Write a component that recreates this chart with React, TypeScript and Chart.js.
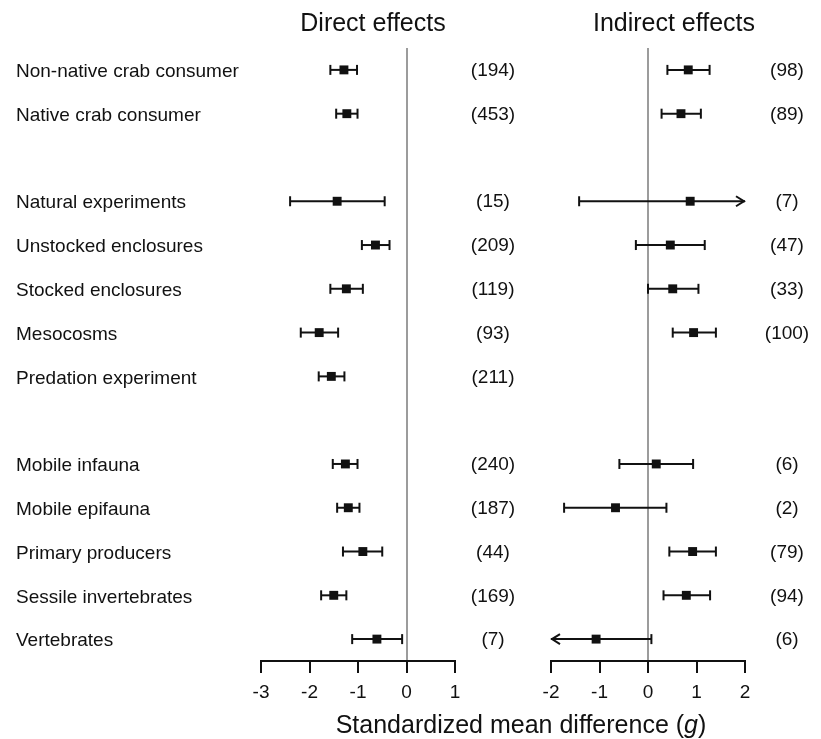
import React, { useEffect, useRef } from 'react';
import { Chart, registerables } from 'chart.js';

Chart.register(...registerables);

// ---------- data ----------
const categories = [
  'Non-native crab consumer',
  'Native crab consumer',
  '',
  'Natural experiments',
  'Unstocked enclosures',
  'Stocked enclosures',
  'Mesocosms',
  'Predation experiment',
  '',
  'Mobile infauna',
  'Mobile epifauna',
  'Primary producers',
  'Sessile invertebrates',
  'Vertebrates',
];

const directMean = [-1.29, -1.23, null, -1.43, -0.64, -1.24, -1.8, -1.55, null, -1.26, -1.2, -0.9, -1.5, -0.61];
const directLower = [-1.57, -1.45, null, -2.4, -0.92, -1.57, -2.18, -1.81, null, -1.52, -1.43, -1.31, -1.76, -1.12];
const directUpper = [-1.02, -1.01, null, -0.45, -0.35, -0.9, -1.41, -1.28, null, -1.01, -0.97, -0.5, -1.24, -0.09];
const directN = [194, 453, null, 15, 209, 119, 93, 211, null, 240, 187, 44, 169, 7];

const indirectMean = [0.83, 0.68, null, 0.87, 0.46, 0.51, 0.94, null, null, 0.17, -0.67, 0.92, 0.79, -1.07];
const indirectLower = [0.4, 0.28, null, -1.42, -0.25, 0.0, 0.51, null, null, -0.59, -1.73, 0.44, 0.32, -2.0];
const indirectUpper = [1.27, 1.09, null, 2.0, 1.17, 1.04, 1.4, null, null, 0.93, 0.38, 1.4, 1.28, 0.07];
const indirectN = [98, 89, null, 7, 47, 33, 100, null, null, 6, 2, 79, 94, 6];
// interval continues beyond the axis: drawn as an arrow
const indirectArrow = ['', '', '', 'right', '', '', '', '', '', '', '', '', '', 'left'];
const directArrow = categories.map(() => '');

const directTicks = [-3, -2, -1, 0, 1];
const indirectTicks = [-2, -1, 0, 1, 2];

const panelTitles = ['Direct effects', 'Indirect effects'];
const axisTitle = 'Standardized mean difference';
const axisSymbol = 'g';

// ---------- style ----------
const FONT = '"Liberation Sans", Arial, Helvetica, sans-serif';
const INK = '#111111';
const ZERO = '#9c9c9c';

function forestPlugin(lower, upper, arrows, counts, countOffset) {
  return {
    id: 'forest',
    beforeDatasetsDraw(chart) {
      const { ctx } = chart;
      const xs = chart.scales.x;
      const ys = chart.scales.y;
      ctx.save();
      ctx.strokeStyle = INK;
      ctx.lineWidth = 2;
      ctx.lineCap = 'butt';
      for (let i = 0; i < lower.length; i++) {
        if (lower[i] == null || upper[i] == null) continue;
        const py = ys.getPixelForValue(i);
        const x1 = xs.getPixelForValue(lower[i]);
        const x2 = xs.getPixelForValue(upper[i]);
        ctx.beginPath();
        ctx.moveTo(x1, py);
        ctx.lineTo(x2, py);
        ctx.stroke();
        const cap = 5;
        // left end
        ctx.beginPath();
        if (arrows[i] === 'left') {
          ctx.moveTo(x1 + 9, py - 5);
          ctx.lineTo(x1 + 1, py);
          ctx.lineTo(x1 + 9, py + 5);
        } else {
          ctx.moveTo(x1, py - cap);
          ctx.lineTo(x1, py + cap);
        }
        ctx.stroke();
        // right end
        ctx.beginPath();
        if (arrows[i] === 'right') {
          ctx.moveTo(x2 - 9, py - 5);
          ctx.lineTo(x2 - 1, py);
          ctx.lineTo(x2 - 9, py + 5);
        } else {
          ctx.moveTo(x2, py - cap);
          ctx.lineTo(x2, py + cap);
        }
        ctx.stroke();
      }
      ctx.restore();
    },
    afterDraw(chart) {
      const { ctx, chartArea } = chart;
      const ys = chart.scales.y;
      ctx.save();
      ctx.fillStyle = INK;
      ctx.font = `19px ${FONT}`;
      ctx.textAlign = 'center';
      ctx.textBaseline = 'middle';
      for (let i = 0; i < counts.length; i++) {
        if (counts[i] == null) continue;
        ctx.fillText(`(${counts[i]})`, chartArea.right + countOffset, ys.getPixelForValue(i) + 1);
      }
      ctx.restore();
    },
  };
}

function makeConfig(opts) {
  const { mean, lower, upper, arrows, counts, ticks, showLabels, padding, countOffset } = opts;
  const points = [];
  mean.forEach((m, i) => {
    if (m != null) points.push({ x: m, y: i });
  });
  return {
    type: 'scatter',
    data: {
      datasets: [
        {
          data: points,
          pointStyle: 'rect',
          pointRadius: 6.3,
          pointHoverRadius: 6.3,
          backgroundColor: INK,
          borderWidth: 0,
        },
      ],
    },
    options: {
      responsive: false,
      animation: false,
      events: [],
      layout: { padding },
      plugins: { legend: { display: false }, tooltip: { enabled: false }, title: { display: false } },
      scales: {
        x: {
          type: 'linear',
          min: ticks[0],
          max: ticks[ticks.length - 1],
          afterBuildTicks: (s) => {
            s.ticks = ticks.map((v) => ({ value: v }));
          },
          ticks: { font: { family: FONT, size: 19 }, color: INK, padding: 8 },
          grid: {
            display: true,
            drawOnChartArea: true,
            drawTicks: true,
            color: (c) => (c.tick && c.tick.value === 0 ? ZERO : 'rgba(0,0,0,0)'),
            lineWidth: 2,
            tickColor: INK,
            tickWidth: 2,
            tickLength: 12,
          },
          border: { display: true, color: INK, width: 2 },
          afterFit: (s) => {
            s.height = 78;
          },
        },
        y: {
          type: 'linear',
          display: showLabels,
          reverse: true,
          min: -0.5,
          max: categories.length - 0.5,
          afterBuildTicks: (s) => {
            s.ticks = categories.map((_, i) => ({ value: i }));
          },
          ticks: {
            autoSkip: false,
            crossAlign: 'far',
            padding: 0,
            labelOffset: 2,
            color: INK,
            font: { family: FONT, size: 19 },
            callback: (v) => categories[v] ?? '',
          },
          grid: { display: false },
          border: { display: false },
          afterFit: (s) => {
            s.width = showLabels ? 245 : 0;
          },
        },
      },
    },
    plugins: [forestPlugin(lower, upper, arrows, counts, countOffset)],
  };
}

export default function App() {
  const leftRef = useRef(null);
  const rightRef = useRef(null);

  useEffect(() => {
    const left = new Chart(
      leftRef.current,
      makeConfig({
        mean: directMean,
        lower: directLower,
        upper: directUpper,
        arrows: directArrow,
        counts: directN,
        ticks: directTicks,
        showLabels: true,
        padding: { left: 16, right: 75, top: 48, bottom: 0 },
        countOffset: 38,
      })
    );
    const right = new Chart(
      rightRef.current,
      makeConfig({
        mean: indirectMean,
        lower: indirectLower,
        upper: indirectUpper,
        arrows: indirectArrow,
        counts: indirectN,
        ticks: indirectTicks,
        showLabels: false,
        padding: { left: 21, right: 76, top: 48, bottom: 0 },
        countOffset: 42,
      })
    );
    return () => {
      left.destroy();
      right.destroy();
    };
  }, []);

  const titleStyle = {
    position: 'absolute',
    top: 9,
    fontFamily: FONT,
    fontSize: 25,
    lineHeight: '27px',
    color: INK,
    textAlign: 'center',
    whiteSpace: 'nowrap',
  } as React.CSSProperties;

  return (
    <div style={{ position: 'absolute', left: 0, top: 0, width: 821, height: 739, background: '#fff', overflow: 'hidden' }}>
      <canvas ref={leftRef} width={530} height={739} style={{ position: 'absolute', left: 0, top: 0 }} />
      <canvas ref={rightRef} width={291} height={739} style={{ position: 'absolute', left: 530, top: 0 }} />
      <div style={{ ...titleStyle, left: 273, width: 200 }}>{panelTitles[0]}</div>
      <div style={{ ...titleStyle, left: 574, width: 200 }}>{panelTitles[1]}</div>
      <div
        style={{
          ...titleStyle,
          top: 711,
          left: 321,
          width: 400,
        }}
      >
        {axisTitle} (<i>{axisSymbol}</i>)
      </div>
    </div>
  );
}
